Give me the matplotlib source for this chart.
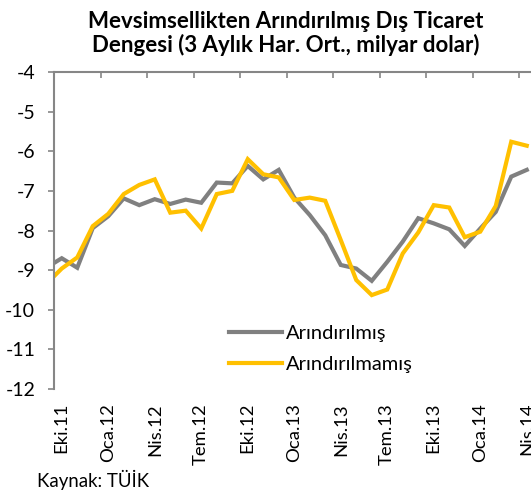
import numpy as np
import matplotlib
matplotlib.use('Agg')
import matplotlib.pyplot as plt

plt.rcParams['font.family'] = ['Lato', 'DejaVu Sans']
plt.rcParams['axes.unicode_minus'] = False

# months from Eyl.11 to Nis.14 (first one sits just left of the axis)
months = ['Eyl.11', 'Eki.11', 'Kas.11', 'Ara.11',
          'Oca.12', 'Şub.12', 'Mar.12', 'Nis.12', 'May.12', 'Haz.12',
          'Tem.12', 'Ağu.12', 'Eyl.12', 'Eki.12', 'Kas.12', 'Ara.12',
          'Oca.13', 'Şub.13', 'Mar.13', 'Nis.13', 'May.13', 'Haz.13',
          'Tem.13', 'Ağu.13', 'Eyl.13', 'Eki.13', 'Kas.13', 'Ara.13',
          'Oca.14', 'Şub.14', 'Mar.14', 'Nis.14']

arindirilmis = [-8.94, -8.70, -8.94, -7.94, -7.64, -7.19, -7.36, -7.21,
                -7.33, -7.22, -7.30, -6.79, -6.81, -6.37, -6.71, -6.47,
                -7.17, -7.61, -8.12, -8.87, -8.96, -9.27, -8.79, -8.28,
                -7.69, -7.82, -7.97, -8.39, -7.95, -7.53, -6.64, -6.47]

arindirilmamis = [-9.35, -8.96, -8.68, -7.89, -7.58, -7.08, -6.85, -6.71,
                  -7.55, -7.50, -7.95, -7.08, -7.00, -6.20, -6.58, -6.66,
                  -7.23, -7.17, -7.25, -8.24, -9.25, -9.63, -9.49, -8.58,
                  -8.05, -7.36, -7.42, -8.17, -8.03, -7.38, -5.76, -5.86]

x = np.arange(len(months)) - 1
label_idx = [i for i in range(len(months)) if i >= 1 and (i - 1) % 3 == 0]

gray = '#808080'
yellow = '#FFC000'
axis_col = '#868686'

fig = plt.figure(figsize=(5.31, 4.94), dpi=100)
ax = fig.add_axes([54 / 531, 1 - 389 / 494, 480.5 / 531, 317 / 494])

ax.plot(x, arindirilmis, color=gray, lw=3, label='Arındırılmış',
        solid_joinstyle='miter')
ax.plot(x, arindirilmamis, color=yellow, lw=3, label='Arındırılmamış',
        solid_joinstyle='miter')

ax.set_xlim(-0.5, 30.5)
ax.set_ylim(-12, -4)
ax.set_yticks(range(-12, -3))
ax.set_yticklabels([str(v) for v in range(-12, -3)], fontsize=14)

ax.set_xticks([x[i] for i in label_idx])
ax.set_xticklabels([months[i] for i in label_idx], rotation=90, fontsize=13.3)
ax.set_xticks(np.arange(-0.5, 30, 3), minor=True)

ax.tick_params(axis='x', which='major', length=0, pad=10)
ax.tick_params(axis='x', which='minor', bottom=False, top=True,
               direction='in', length=4.5, width=1.2, color=axis_col)
ax.tick_params(axis='y', direction='out', length=4.5, width=1.2,
               color=axis_col, pad=9)

for s in ['bottom', 'right']:
    ax.spines[s].set_visible(False)
for s in ['left', 'top']:
    ax.spines[s].set_color(axis_col)
    ax.spines[s].set_linewidth(1.5)

ax.legend(loc='upper left', bbox_to_anchor=(0.348, 0.228), frameon=False,
          fontsize=14.5, handlelength=2.6, handletextpad=0.2,
          labelspacing=0.7, borderaxespad=0)

fig.text(286 / 531, 1 - 11 / 494,
         'Mevsimsellikten Arındırılmış Dış Ticaret\n'
         'Dengesi (3 Aylık Har. Ort., milyar dolar)',
         ha='center', va='top', fontsize=16, fontweight='bold',
         linespacing=1.1)
fig.text(37 / 531, 1 - 480 / 494, 'Kaynak: TÜİK', ha='left', va='center',
         fontsize=13.4)

fig.savefig('out.png', dpi=100)
